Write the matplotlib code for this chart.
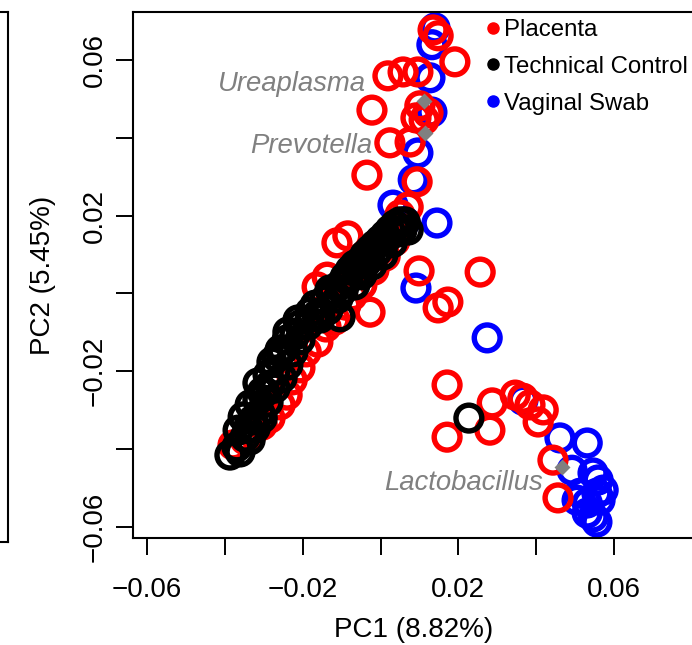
import numpy as np
import matplotlib
matplotlib.use("Agg")
import matplotlib.pyplot as plt
from matplotlib.lines import Line2D

plt.rcParams['font.family'] = ['Liberation Sans', 'DejaVu Sans']

# --- PCA scores ---
placenta_x = [0.0135, 0.0148, 0.0191, 0.0019, 0.0058, 0.0096, -0.0022, 0.0101, 0.0122, 0.0112,
              0.0091, 0.0024, 0.0076, -0.0035, 0.0094, 0.0071, 0.0050, 0.0099, 0.0256, 0.0148,
              0.0173, -0.0112, -0.0084, -0.0137, -0.0163, -0.0027,
              -0.0379, -0.0348, -0.0330, -0.0304, -0.0284, -0.0258, -0.0240, -0.0227, -0.0207,
              -0.0191, -0.0161, -0.0140, -0.0117, -0.0089, -0.0073, -0.0048, -0.0017, 0.0012,
              0.0037, 0.0050, 0.0024, -0.0001,
              0.0171, 0.0171, 0.0287, 0.0281, 0.0346, 0.0366, 0.0384, 0.0418, 0.0405, 0.0443, 0.0456]
placenta_y = [0.0677, 0.0662, 0.0595, 0.0559, 0.0569, 0.0569, 0.0471, 0.0482, 0.0464, 0.0446,
              0.0451, 0.0387, 0.0389, 0.0304, 0.0287, 0.0222, 0.0202, 0.0058, 0.0055, -0.0037,
              -0.0022, 0.0130, 0.0148, 0.0042, 0.0017, -0.0048,
              -0.0389, -0.0376, -0.0356, -0.0338, -0.0320, -0.0286, -0.0261, -0.0222, -0.0191,
              -0.0150, -0.0125, -0.0086, -0.0068, -0.0030, -0.0006, 0.0022, 0.0060, 0.0096,
              0.0135, 0.0168, 0.0150, 0.0112,
              -0.0235, -0.0369, -0.0281, -0.0351, -0.0261, -0.0269, -0.0286, -0.0299, -0.0330, -0.0428, -0.0525]

control_x = [-0.0387, -0.0369, -0.0348, -0.0340, -0.0328, -0.0353, -0.0310, -0.0315, -0.0297, -0.0284,
             -0.0315, -0.0271, -0.0266, -0.0251, -0.0240, -0.0220, -0.0207, -0.0181, -0.0163, -0.0104,
             -0.0143, -0.0122, -0.0104, -0.0091, -0.0078, -0.0066, -0.0053, -0.0040, -0.0027, -0.0014,
             -0.0001, 0.0012, 0.0024, 0.0037, 0.0050, 0.0055, 0.0227,
             -0.0361, -0.0335, -0.0366, -0.0322, -0.0304, -0.0335, -0.0289, -0.0304, -0.0271, -0.0289,
             -0.0253, -0.0279, -0.0238, -0.0258, -0.0225, -0.0238, -0.0207, -0.0212, -0.0186, -0.0168,
             -0.0155, -0.0135, -0.0130, -0.0109, -0.0096, -0.0084, -0.0066, -0.0060, -0.0048, -0.0035,
             -0.0022, -0.0009, 0.0006, 0.0012, 0.0030, 0.0045, 0.0063, 0.0071]
control_y = [-0.0415, -0.0394, -0.0369, -0.0346, -0.0325, -0.0317, -0.0307, -0.0274, -0.0253, -0.0235,
             -0.0230, -0.0197, -0.0163, -0.0145, -0.0119, -0.0107, -0.0081, -0.0048, -0.0055, -0.0060,
             -0.0017, 0.0004, 0.0022, 0.0042, 0.0060, 0.0073, 0.0081, 0.0099, 0.0112, 0.0125,
             0.0137, 0.0150, 0.0163, 0.0176, 0.0184, 0.0163, -0.0320,
             -0.0407, -0.0376, -0.0351, -0.0346, -0.0320, -0.0286, -0.0279, -0.0253, -0.0243, -0.0209,
             -0.0217, -0.0176, -0.0184, -0.0145, -0.0150, -0.0099, -0.0119, -0.0068, -0.0081, -0.0030,
             -0.0063, -0.0042, 0.0009, -0.0012, 0.0009, 0.0035, 0.0022, 0.0055, 0.0048, 0.0081,
             0.0073, 0.0107, 0.0099, 0.0137, 0.0130, 0.0158, 0.0184, 0.0163]

swab_x = [0.0140, 0.0132, 0.0127, 0.0132, 0.0096, 0.0084, 0.0032, 0.0145, 0.0063, 0.0091,
          0.0274, 0.0366, 0.0461, 0.0531, 0.0492, 0.0546, 0.0559, 0.0513, 0.0556, 0.0572,
          0.0531, 0.0546, 0.0556, 0.0531, 0.0505, 0.0564]
swab_y = [0.0682, 0.0639, 0.0554, 0.0466, 0.0361, 0.0292, 0.0227, 0.0181, 0.0184, 0.0014,
          -0.0114, -0.0274, -0.0371, -0.0384, -0.0454, -0.0461, -0.0479, -0.0513, -0.0513, -0.0505,
          -0.0538, -0.0574, -0.0587, -0.0564, -0.0531, -0.0531]

# taxa loadings (grey diamonds) and their label anchors
taxa = ['Ureaplasma', 'Prevotella', 'Lactobacillus']
taxa_x = [0.0112, 0.0114, 0.0466]
taxa_y = [0.0495, 0.0412, -0.0446]
label_x = [-0.0037, -0.0022, 0.0418]
label_y = [0.0520, 0.0361, -0.0505]

ticks = [-0.06, -0.04, -0.02, 0.0, 0.02, 0.04, 0.06]
tick_labels = ['\u22120.06', '', '\u22120.02', '', '0.02', '', '0.06']

groups = ['Placenta', 'Technical Control', 'Vaginal Swab']
colors = ['#FF0000', '#000000', '#0000FF']
grey = '#808080'

W, H = 692, 645
fig = plt.figure(figsize=(W / 100, H / 100), dpi=100)

# edge of the neighbouring panel, cropped on the left
left = fig.add_axes([-0.2, 103 / H, 0.2 + 8 / W, 530 / H])
left.set_xticks([])
left.set_yticks([])
for s in left.spines.values():
    s.set_linewidth(1.5)

ax = fig.add_axes([133 / W, 107 / H, 562 / W, 526 / H])

ms_area, ms_lw = 345, 3.9
ax.scatter(swab_x, swab_y, s=ms_area, facecolors='none', edgecolors=colors[2], linewidths=ms_lw)
ax.scatter(placenta_x, placenta_y, s=ms_area, facecolors='none', edgecolors=colors[0], linewidths=ms_lw)
ax.scatter(control_x, control_y, s=ms_area, facecolors='none', edgecolors=colors[1], linewidths=ms_lw)

ax.plot(taxa_x, taxa_y, ls='', marker='D', ms=8.5, color=grey, mec='none')
for name, lx, ly in zip(taxa, label_x, label_y):
    ax.text(lx, ly, name, ha='right', va='baseline', fontsize=19.8, style='italic', color=grey)

ax.set_xlim(-0.0636, -0.0636 + 562 / 3892)
ax.set_ylim(-0.0628, 0.0723)

ax.set_xticks(ticks)
ax.set_xticklabels(tick_labels)
ax.set_yticks(ticks)
ax.set_yticklabels(tick_labels, rotation=90, va='center')
ax.tick_params(axis='both', length=12, width=1.4, labelsize=20)
ax.tick_params(axis='x', pad=16)
ax.tick_params(axis='y', pad=6)
for s in ax.spines.values():
    s.set_linewidth(1.5)

ax.set_xlabel('PC1 (8.82%)', fontsize=20, labelpad=10)
ax.set_ylabel('PC2 (5.45%)', fontsize=20, labelpad=19)

handles = [Line2D([], [], ls='', marker='o', ms=8, color=c) for c in colors]
ax.legend(handles, groups, loc='upper left', bbox_to_anchor=(487 / W, 1 - 19 / H),
          bbox_transform=fig.transFigure, frameon=False, fontsize=17.3,
          handlelength=0.5, handletextpad=0.2, labelspacing=0.62,
          borderpad=0, borderaxespad=0)

fig.savefig('out.png', dpi=100)
